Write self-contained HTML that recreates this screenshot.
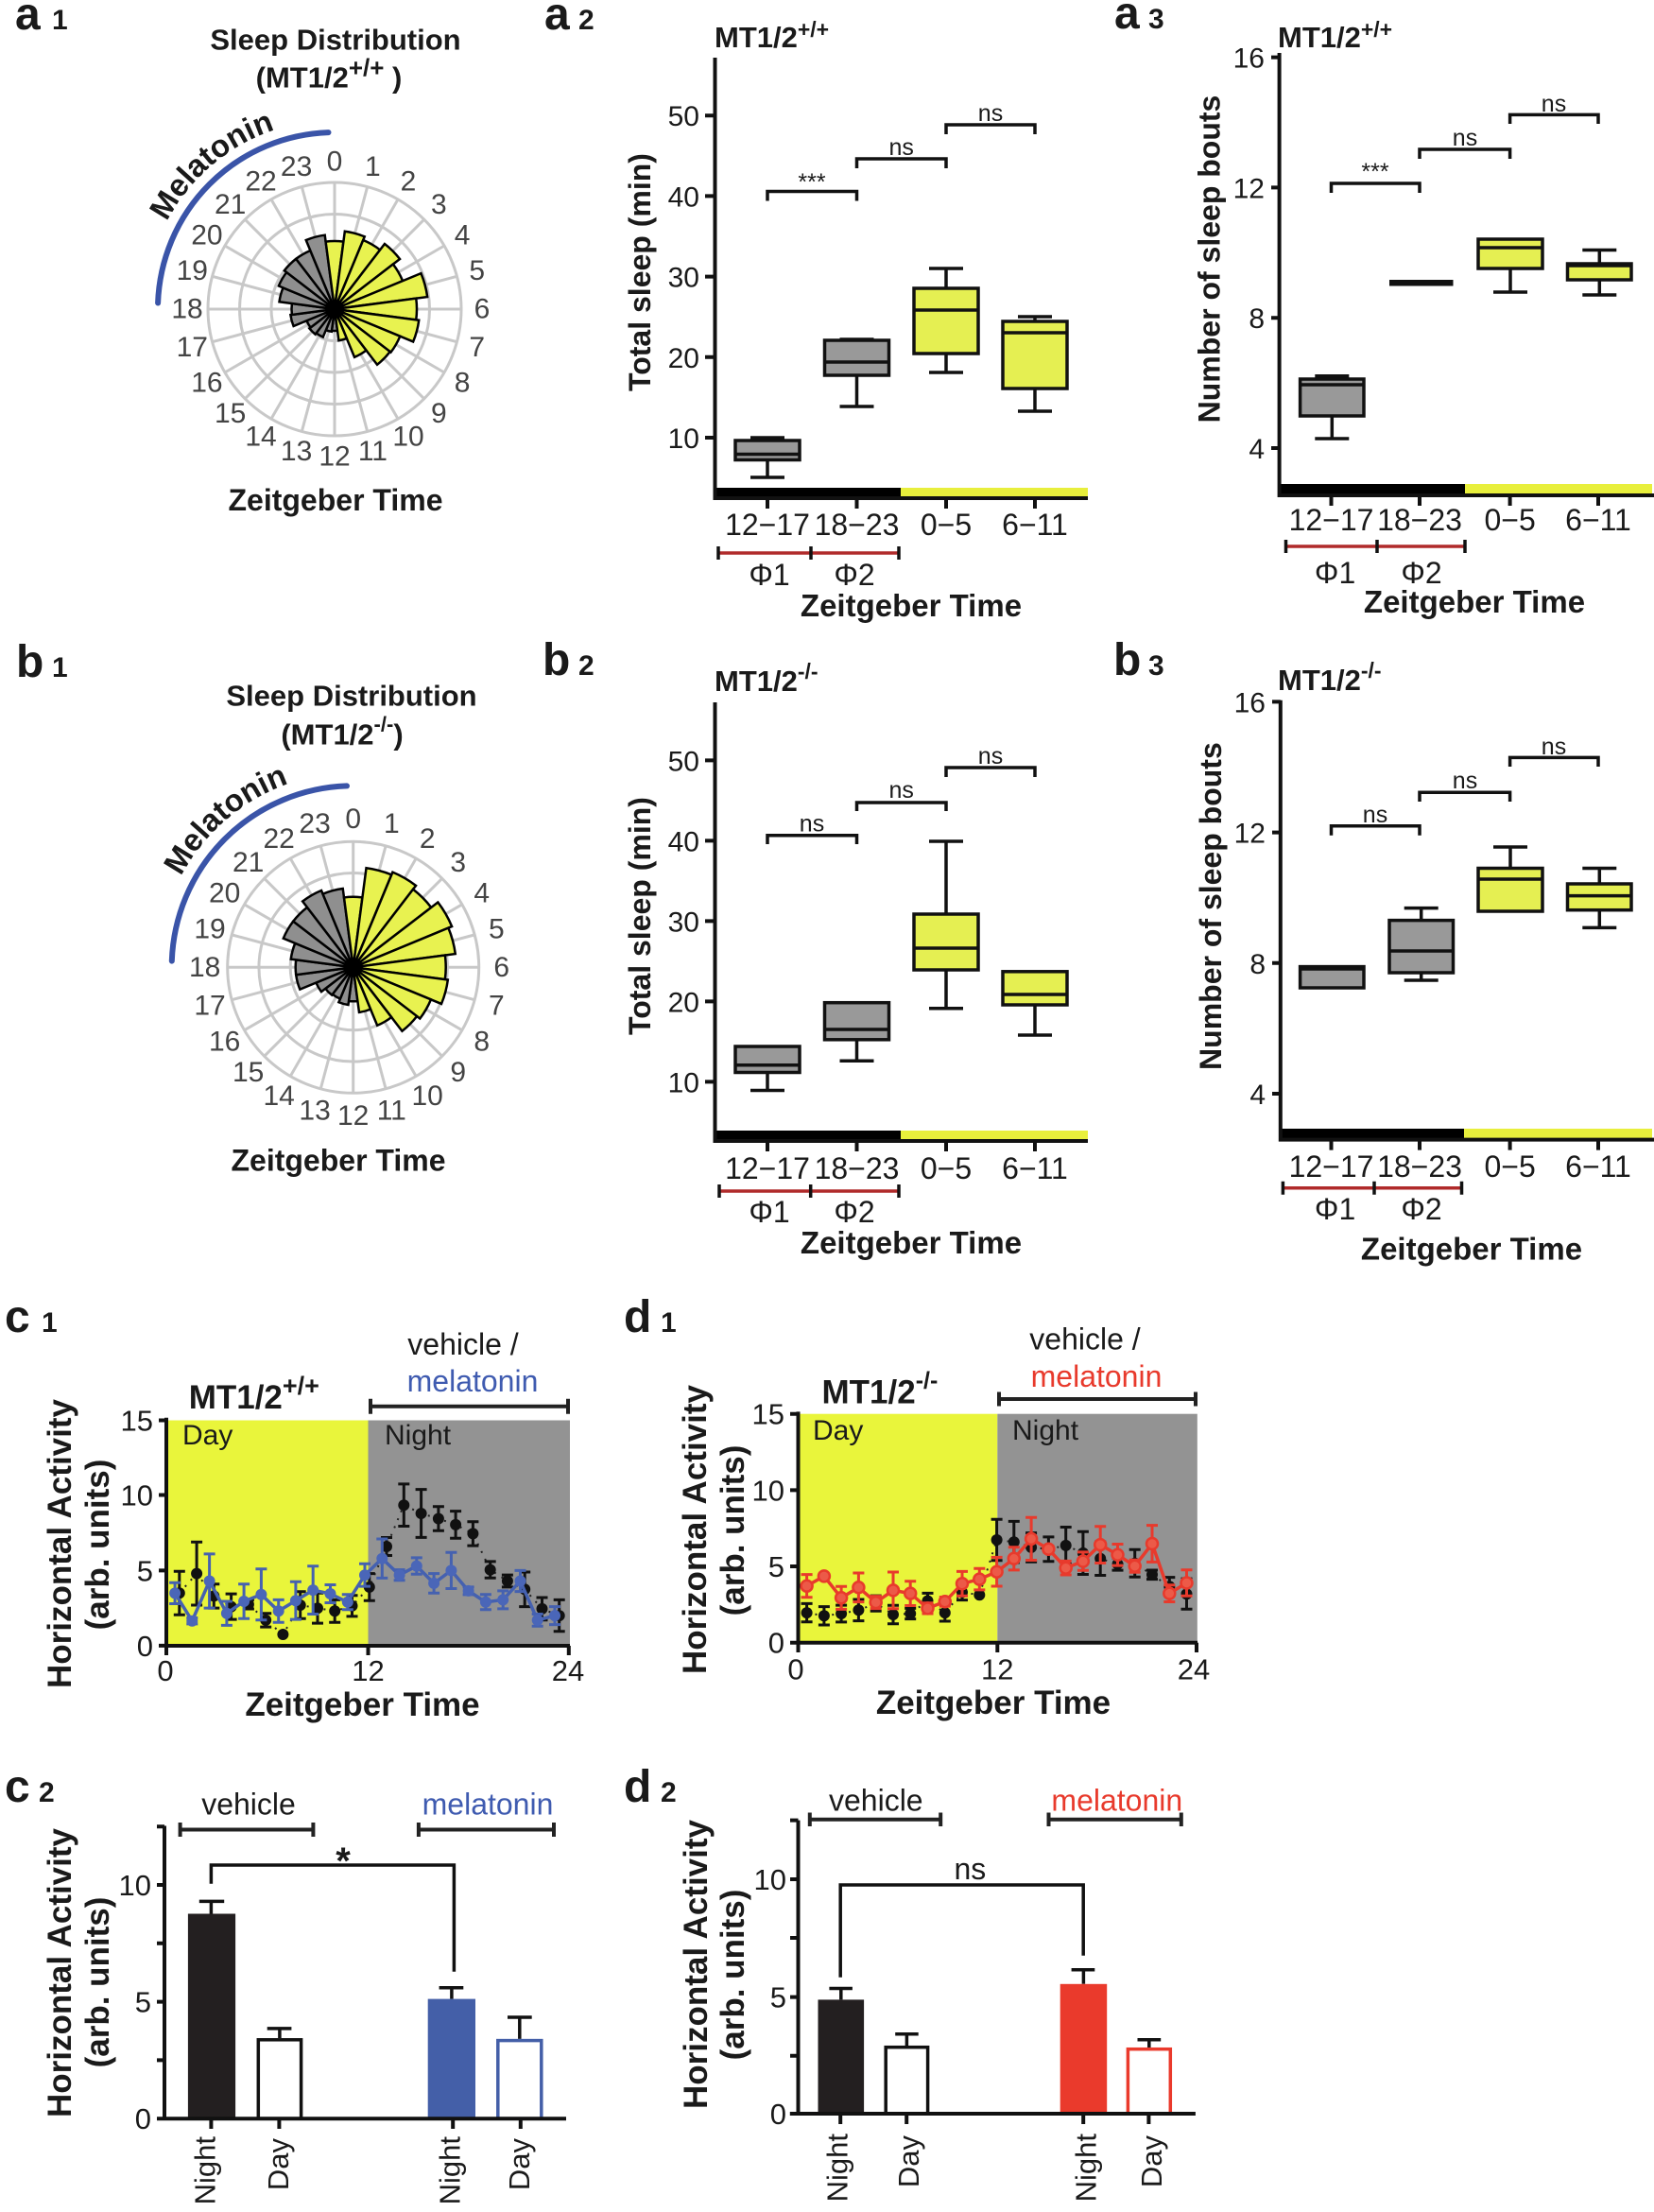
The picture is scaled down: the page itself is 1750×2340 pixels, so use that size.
<!DOCTYPE html>
<html><head><meta charset="utf-8"><style>
html,body{margin:0;padding:0;background:#fff;}
svg{display:block;}
text{font-family:"Liberation Sans",Arial,sans-serif;fill:#1a1a1a;}
.b{font-weight:bold;}
.ax{stroke:#111;stroke-width:4;fill:none;}
.bx{stroke:#111;stroke-width:3.5;}
.ln{stroke:#111;stroke-width:3.5;fill:none;}
.grid{stroke:#c8c8c8;stroke-width:3;fill:none;}
.wg{fill:#8f8f8f;stroke:#000;stroke-width:2.5;}
.wy{fill:#e8f250;stroke:#000;stroke-width:2.5;}
.pl{font-size:30px;fill:#444;}
</style></head><body>
<svg xmlns="http://www.w3.org/2000/svg" width="1750" height="2340" viewBox="0 0 1750 2340">
<defs>
<path id="arcA" d="M154,327 A200,200 0 0 1 354,127"/>
<path id="arcB" d="M167.7,1023.3 A206,206 0 0 1 373.7,817.3"/>
</defs>
<rect width="1750" height="2340" fill="#fff"/>

<!-- panel letters -->
<text class="b" x="16" y="31" font-size="48">a</text><text class="b" x="55" y="31" font-size="30">1</text>
<text class="b" x="576" y="31" font-size="48">a</text><text class="b" x="612" y="31" font-size="30">2</text>
<text class="b" x="1179" y="30" font-size="48">a</text><text class="b" x="1215" y="30" font-size="30">3</text>
<text class="b" x="17" y="716" font-size="48">b</text><text class="b" x="55" y="716" font-size="30">1</text>
<text class="b" x="574" y="714" font-size="48">b</text><text class="b" x="612" y="714" font-size="30">2</text>
<text class="b" x="1178" y="714" font-size="48">b</text><text class="b" x="1215" y="714" font-size="30">3</text>
<text class="b" x="5" y="1409" font-size="48">c</text><text class="b" x="44" y="1409" font-size="30">1</text>
<text class="b" x="5" y="1906" font-size="48">c</text><text class="b" x="41" y="1906" font-size="30">2</text>
<text class="b" x="660" y="1409" font-size="48">d</text><text class="b" x="699" y="1409" font-size="30">1</text>
<text class="b" x="660" y="1906" font-size="48">d</text><text class="b" x="699" y="1906" font-size="30">2</text>

<!-- ============ a1 polar ============ -->
<text class="b" x="355" y="52.5" font-size="31" text-anchor="middle">Sleep Distribution</text>
<text class="b" x="348" y="92.5" font-size="31" text-anchor="middle">(MT1/2<tspan font-size="26" dy="-12">+/+</tspan><tspan dy="12"> )</tspan></text>
<path d="M167.1,320.5 A187,187 0 0 1 347.5,140.1" fill="none" stroke="#3a54a8" stroke-width="6" stroke-linecap="round"/>
<text class="b" font-size="33"><textPath href="#arcA" startOffset="96">Melatonin</textPath></text>
<g transform="translate(354,327)">
<circle class="grid" r="33.5"/><circle class="grid" r="67"/><circle class="grid" r="100.5"/><circle class="grid" r="134"/>
<g class="grid">
<line x1="0" y1="-134" x2="0" y2="134"/><line x1="0" y1="-134" x2="0" y2="134" transform="rotate(15)"/><line x1="0" y1="-134" x2="0" y2="134" transform="rotate(30)"/><line x1="0" y1="-134" x2="0" y2="134" transform="rotate(45)"/><line x1="0" y1="-134" x2="0" y2="134" transform="rotate(60)"/><line x1="0" y1="-134" x2="0" y2="134" transform="rotate(75)"/><line x1="0" y1="-134" x2="0" y2="134" transform="rotate(90)"/><line x1="0" y1="-134" x2="0" y2="134" transform="rotate(105)"/><line x1="0" y1="-134" x2="0" y2="134" transform="rotate(120)"/><line x1="0" y1="-134" x2="0" y2="134" transform="rotate(135)"/><line x1="0" y1="-134" x2="0" y2="134" transform="rotate(150)"/><line x1="0" y1="-134" x2="0" y2="134" transform="rotate(165)"/>
</g>
<path class="wg" vector-effect="non-scaling-stroke" d="M0,0L-0.1305,-0.9914A1,1 0 0 1 0.1305,-0.9914Z" transform="rotate(180) scale(23)"/>
<path class="wg" vector-effect="non-scaling-stroke" d="M0,0L-0.1305,-0.9914A1,1 0 0 1 0.1305,-0.9914Z" transform="rotate(195) scale(24)"/>
<path class="wg" vector-effect="non-scaling-stroke" d="M0,0L-0.1305,-0.9914A1,1 0 0 1 0.1305,-0.9914Z" transform="rotate(210) scale(32)"/>
<path class="wg" vector-effect="non-scaling-stroke" d="M0,0L-0.1305,-0.9914A1,1 0 0 1 0.1305,-0.9914Z" transform="rotate(225) scale(33.5)"/>
<path class="wg" vector-effect="non-scaling-stroke" d="M0,0L-0.1305,-0.9914A1,1 0 0 1 0.1305,-0.9914Z" transform="rotate(240) scale(32)"/>
<path class="wg" vector-effect="non-scaling-stroke" d="M0,0L-0.1305,-0.9914A1,1 0 0 1 0.1305,-0.9914Z" transform="rotate(255) scale(47)"/>
<path class="wg" vector-effect="non-scaling-stroke" d="M0,0L-0.1305,-0.9914A1,1 0 0 1 0.1305,-0.9914Z" transform="rotate(270) scale(45.5)"/>
<path class="wg" vector-effect="non-scaling-stroke" d="M0,0L-0.1305,-0.9914A1,1 0 0 1 0.1305,-0.9914Z" transform="rotate(285) scale(59)"/>
<path class="wg" vector-effect="non-scaling-stroke" d="M0,0L-0.1305,-0.9914A1,1 0 0 1 0.1305,-0.9914Z" transform="rotate(300) scale(64)"/>
<path class="wg" vector-effect="non-scaling-stroke" d="M0,0L-0.1305,-0.9914A1,1 0 0 1 0.1305,-0.9914Z" transform="rotate(315) scale(67)"/>
<path class="wg" vector-effect="non-scaling-stroke" d="M0,0L-0.1305,-0.9914A1,1 0 0 1 0.1305,-0.9914Z" transform="rotate(330) scale(67)"/>
<path class="wg" vector-effect="non-scaling-stroke" d="M0,0L-0.1305,-0.9914A1,1 0 0 1 0.1305,-0.9914Z" transform="rotate(345) scale(79)"/>
<path class="wy" vector-effect="non-scaling-stroke" d="M0,0L-0.1305,-0.9914A1,1 0 0 1 0.1305,-0.9914Z" transform="rotate(0) scale(72)"/>
<path class="wy" vector-effect="non-scaling-stroke" d="M0,0L-0.1305,-0.9914A1,1 0 0 1 0.1305,-0.9914Z" transform="rotate(15) scale(83)"/>
<path class="wy" vector-effect="non-scaling-stroke" d="M0,0L-0.1305,-0.9914A1,1 0 0 1 0.1305,-0.9914Z" transform="rotate(30) scale(79)"/>
<path class="wy" vector-effect="non-scaling-stroke" d="M0,0L-0.1305,-0.9914A1,1 0 0 1 0.1305,-0.9914Z" transform="rotate(45) scale(87)"/>
<path class="wy" vector-effect="non-scaling-stroke" d="M0,0L-0.1305,-0.9914A1,1 0 0 1 0.1305,-0.9914Z" transform="rotate(60) scale(78)"/>
<path class="wy" vector-effect="non-scaling-stroke" d="M0,0L-0.1305,-0.9914A1,1 0 0 1 0.1305,-0.9914Z" transform="rotate(75) scale(99)"/>
<path class="wy" vector-effect="non-scaling-stroke" d="M0,0L-0.1305,-0.9914A1,1 0 0 1 0.1305,-0.9914Z" transform="rotate(90) scale(87)"/>
<path class="wy" vector-effect="non-scaling-stroke" d="M0,0L-0.1305,-0.9914A1,1 0 0 1 0.1305,-0.9914Z" transform="rotate(105) scale(90)"/>
<path class="wy" vector-effect="non-scaling-stroke" d="M0,0L-0.1305,-0.9914A1,1 0 0 1 0.1305,-0.9914Z" transform="rotate(120) scale(75)"/>
<path class="wy" vector-effect="non-scaling-stroke" d="M0,0L-0.1305,-0.9914A1,1 0 0 1 0.1305,-0.9914Z" transform="rotate(135) scale(74)"/>
<path class="wy" vector-effect="non-scaling-stroke" d="M0,0L-0.1305,-0.9914A1,1 0 0 1 0.1305,-0.9914Z" transform="rotate(150) scale(55)"/>
<path class="wy" vector-effect="non-scaling-stroke" d="M0,0L-0.1305,-0.9914A1,1 0 0 1 0.1305,-0.9914Z" transform="rotate(165) scale(33.5)"/>
<circle r="10" fill="#000"/>
</g>
<g text-anchor="middle">
<text class="pl" x="354" y="171" dominant-baseline="central">0</text>
<text class="pl" x="394.4" y="176.3" dominant-baseline="central">1</text>
<text class="pl" x="432" y="191.9" dominant-baseline="central">2</text>
<text class="pl" x="464.3" y="216.7" dominant-baseline="central">3</text>
<text class="pl" x="489.1" y="249" dominant-baseline="central">4</text>
<text class="pl" x="504.7" y="286.6" dominant-baseline="central">5</text>
<text class="pl" x="510" y="327" dominant-baseline="central">6</text>
<text class="pl" x="504.7" y="367.4" dominant-baseline="central">7</text>
<text class="pl" x="489.1" y="405" dominant-baseline="central">8</text>
<text class="pl" x="464.3" y="437.3" dominant-baseline="central">9</text>
<text class="pl" x="432" y="462.1" dominant-baseline="central">10</text>
<text class="pl" x="394.4" y="477.7" dominant-baseline="central">11</text>
<text class="pl" x="354" y="483" dominant-baseline="central">12</text>
<text class="pl" x="313.6" y="477.7" dominant-baseline="central">13</text>
<text class="pl" x="276" y="462.1" dominant-baseline="central">14</text>
<text class="pl" x="243.7" y="437.3" dominant-baseline="central">15</text>
<text class="pl" x="218.9" y="405" dominant-baseline="central">16</text>
<text class="pl" x="203.3" y="367.4" dominant-baseline="central">17</text>
<text class="pl" x="198" y="327" dominant-baseline="central">18</text>
<text class="pl" x="203.3" y="286.6" dominant-baseline="central">19</text>
<text class="pl" x="218.9" y="249" dominant-baseline="central">20</text>
<text class="pl" x="243.7" y="216.7" dominant-baseline="central">21</text>
<text class="pl" x="276" y="191.9" dominant-baseline="central">22</text>
<text class="pl" x="313.6" y="176.3" dominant-baseline="central">23</text>
</g>
<text class="b" x="355" y="540" font-size="32" text-anchor="middle">Zeitgeber Time</text>

<!-- ============ b1 polar ============ -->
<text class="b" x="372" y="746.6" font-size="31" text-anchor="middle">Sleep Distribution</text>
<text class="b" x="362" y="787.3" font-size="31" text-anchor="middle">(MT1/2<tspan font-size="22" dy="-14">-/-</tspan><tspan dy="14">)</tspan></text>
<path d="M181.8,1016.6 A192,192 0 0 1 367,831.4" fill="none" stroke="#3a54a8" stroke-width="6" stroke-linecap="round"/>
<text class="b" font-size="33"><textPath href="#arcB" startOffset="100">Melatonin</textPath></text>
<g transform="translate(373.7,1023.3)">
<circle class="grid" r="33.25"/><circle class="grid" r="66.5"/><circle class="grid" r="99.75"/><circle class="grid" r="133"/>
<g class="grid">
<line x1="0" y1="-133" x2="0" y2="133"/><line x1="0" y1="-133" x2="0" y2="133" transform="rotate(15)"/><line x1="0" y1="-133" x2="0" y2="133" transform="rotate(30)"/><line x1="0" y1="-133" x2="0" y2="133" transform="rotate(45)"/><line x1="0" y1="-133" x2="0" y2="133" transform="rotate(60)"/><line x1="0" y1="-133" x2="0" y2="133" transform="rotate(75)"/><line x1="0" y1="-133" x2="0" y2="133" transform="rotate(90)"/><line x1="0" y1="-133" x2="0" y2="133" transform="rotate(105)"/><line x1="0" y1="-133" x2="0" y2="133" transform="rotate(120)"/><line x1="0" y1="-133" x2="0" y2="133" transform="rotate(135)"/><line x1="0" y1="-133" x2="0" y2="133" transform="rotate(150)"/><line x1="0" y1="-133" x2="0" y2="133" transform="rotate(165)"/>
</g>
<path class="wg" vector-effect="non-scaling-stroke" d="M0,0L-0.1305,-0.9914A1,1 0 0 1 0.1305,-0.9914Z" transform="rotate(180) scale(36)"/>
<path class="wg" vector-effect="non-scaling-stroke" d="M0,0L-0.1305,-0.9914A1,1 0 0 1 0.1305,-0.9914Z" transform="rotate(195) scale(40)"/>
<path class="wg" vector-effect="non-scaling-stroke" d="M0,0L-0.1305,-0.9914A1,1 0 0 1 0.1305,-0.9914Z" transform="rotate(210) scale(36)"/>
<path class="wg" vector-effect="non-scaling-stroke" d="M0,0L-0.1305,-0.9914A1,1 0 0 1 0.1305,-0.9914Z" transform="rotate(225) scale(37)"/>
<path class="wg" vector-effect="non-scaling-stroke" d="M0,0L-0.1305,-0.9914A1,1 0 0 1 0.1305,-0.9914Z" transform="rotate(240) scale(42.5)"/>
<path class="wg" vector-effect="non-scaling-stroke" d="M0,0L-0.1305,-0.9914A1,1 0 0 1 0.1305,-0.9914Z" transform="rotate(255) scale(61)"/>
<path class="wg" vector-effect="non-scaling-stroke" d="M0,0L-0.1305,-0.9914A1,1 0 0 1 0.1305,-0.9914Z" transform="rotate(270) scale(61)"/>
<path class="wg" vector-effect="non-scaling-stroke" d="M0,0L-0.1305,-0.9914A1,1 0 0 1 0.1305,-0.9914Z" transform="rotate(285) scale(66.5)"/>
<path class="wg" vector-effect="non-scaling-stroke" d="M0,0L-0.1305,-0.9914A1,1 0 0 1 0.1305,-0.9914Z" transform="rotate(300) scale(80)"/>
<path class="wg" vector-effect="non-scaling-stroke" d="M0,0L-0.1305,-0.9914A1,1 0 0 1 0.1305,-0.9914Z" transform="rotate(315) scale(80)"/>
<path class="wg" vector-effect="non-scaling-stroke" d="M0,0L-0.1305,-0.9914A1,1 0 0 1 0.1305,-0.9914Z" transform="rotate(330) scale(88)"/>
<path class="wg" vector-effect="non-scaling-stroke" d="M0,0L-0.1305,-0.9914A1,1 0 0 1 0.1305,-0.9914Z" transform="rotate(345) scale(84)"/>
<path class="wy" vector-effect="non-scaling-stroke" d="M0,0L-0.1305,-0.9914A1,1 0 0 1 0.1305,-0.9914Z" transform="rotate(0) scale(74.5)"/>
<path class="wy" vector-effect="non-scaling-stroke" d="M0,0L-0.1305,-0.9914A1,1 0 0 1 0.1305,-0.9914Z" transform="rotate(15) scale(106)"/>
<path class="wy" vector-effect="non-scaling-stroke" d="M0,0L-0.1305,-0.9914A1,1 0 0 1 0.1305,-0.9914Z" transform="rotate(30) scale(109)"/>
<path class="wy" vector-effect="non-scaling-stroke" d="M0,0L-0.1305,-0.9914A1,1 0 0 1 0.1305,-0.9914Z" transform="rotate(45) scale(104)"/>
<path class="wy" vector-effect="non-scaling-stroke" d="M0,0L-0.1305,-0.9914A1,1 0 0 1 0.1305,-0.9914Z" transform="rotate(60) scale(113)"/>
<path class="wy" vector-effect="non-scaling-stroke" d="M0,0L-0.1305,-0.9914A1,1 0 0 1 0.1305,-0.9914Z" transform="rotate(75) scale(109)"/>
<path class="wy" vector-effect="non-scaling-stroke" d="M0,0L-0.1305,-0.9914A1,1 0 0 1 0.1305,-0.9914Z" transform="rotate(90) scale(98)"/>
<path class="wy" vector-effect="non-scaling-stroke" d="M0,0L-0.1305,-0.9914A1,1 0 0 1 0.1305,-0.9914Z" transform="rotate(105) scale(101)"/>
<path class="wy" vector-effect="non-scaling-stroke" d="M0,0L-0.1305,-0.9914A1,1 0 0 1 0.1305,-0.9914Z" transform="rotate(120) scale(89)"/>
<path class="wy" vector-effect="non-scaling-stroke" d="M0,0L-0.1305,-0.9914A1,1 0 0 1 0.1305,-0.9914Z" transform="rotate(135) scale(85)"/>
<path class="wy" vector-effect="non-scaling-stroke" d="M0,0L-0.1305,-0.9914A1,1 0 0 1 0.1305,-0.9914Z" transform="rotate(150) scale(66.5)"/>
<path class="wy" vector-effect="non-scaling-stroke" d="M0,0L-0.1305,-0.9914A1,1 0 0 1 0.1305,-0.9914Z" transform="rotate(165) scale(48)"/>
<circle r="10" fill="#000"/>
</g>
<g text-anchor="middle">
<text class="pl" x="373.7" y="866.3" dominant-baseline="central">0</text>
<text class="pl" x="414.3" y="871.7" dominant-baseline="central">1</text>
<text class="pl" x="452.2" y="887.3" dominant-baseline="central">2</text>
<text class="pl" x="484.7" y="912.3" dominant-baseline="central">3</text>
<text class="pl" x="509.7" y="944.8" dominant-baseline="central">4</text>
<text class="pl" x="525.4" y="983.2" dominant-baseline="central">5</text>
<text class="pl" x="530.7" y="1023.3" dominant-baseline="central">6</text>
<text class="pl" x="525.4" y="1063.9" dominant-baseline="central">7</text>
<text class="pl" x="509.7" y="1101.8" dominant-baseline="central">8</text>
<text class="pl" x="484.7" y="1134.3" dominant-baseline="central">9</text>
<text class="pl" x="452.2" y="1159.3" dominant-baseline="central">10</text>
<text class="pl" x="414.3" y="1175" dominant-baseline="central">11</text>
<text class="pl" x="373.7" y="1180.3" dominant-baseline="central">12</text>
<text class="pl" x="333.1" y="1175" dominant-baseline="central">13</text>
<text class="pl" x="295.2" y="1159.3" dominant-baseline="central">14</text>
<text class="pl" x="262.7" y="1134.3" dominant-baseline="central">15</text>
<text class="pl" x="237.7" y="1101.8" dominant-baseline="central">16</text>
<text class="pl" x="222" y="1063.9" dominant-baseline="central">17</text>
<text class="pl" x="216.7" y="1023.3" dominant-baseline="central">18</text>
<text class="pl" x="222" y="983.2" dominant-baseline="central">19</text>
<text class="pl" x="237.7" y="944.8" dominant-baseline="central">20</text>
<text class="pl" x="262.7" y="912.3" dominant-baseline="central">21</text>
<text class="pl" x="295.2" y="887.3" dominant-baseline="central">22</text>
<text class="pl" x="333.1" y="871.7" dominant-baseline="central">23</text>
</g>
<text class="b" x="358" y="1238.6" font-size="32" text-anchor="middle">Zeitgeber Time</text>

<!-- ============ a2 ============ -->
<text class="b" x="756" y="50" font-size="31">MT1/2<tspan font-size="23" dy="-11">+/+</tspan></text>
<text class="b" transform="translate(688,288) rotate(-90)" text-anchor="middle" font-size="32">Total sleep (min)</text>
<rect x="756.5" y="516" width="196.5" height="10" fill="#000"/>
<rect x="953" y="516" width="198" height="10" fill="#e8ef3c"/>
<path class="ax" d="M756.5,61V529M754.5,527H1151"/>
<path class="ax" d="M746,463H756M746,377.8H756M746,292.6H756M746,207.4H756M746,122.2H756M812,527V538M906.5,527V538M1001,527V538M1095,527V538"/>
<g font-size="30" text-anchor="end">
<text x="740" y="474">10</text><text x="740" y="388.8">20</text><text x="740" y="303.6">30</text><text x="740" y="218.4">40</text><text x="740" y="133.2">50</text>
</g>
<g font-size="32" text-anchor="middle">
<text x="812" y="566">12−17</text><text x="906.5" y="566">18−23</text><text x="1001" y="566">0−5</text><text x="1095" y="566">6−11</text>
<text x="814" y="619">Φ1</text><text x="904" y="619">Φ2</text>
</g>
<line x1="760" y1="585" x2="951" y2="585" stroke="#b02a2a" stroke-width="3.5"/>
<path d="M760,578V592M858,578V592M951,578V592" stroke="#111" stroke-width="3.5"/>
<text class="b" x="964" y="652" font-size="33" text-anchor="middle">Zeitgeber Time</text>
<g class="ln">
<path d="M812,463V466M794,463H830M812,486.5V505M794,505H830"/>
<path d="M906.5,359V360M888.5,359H924.5M906.5,397V430M888.5,430H924.5"/>
<path d="M1001,284V305M983,284H1019M1001,374V394M983,394H1019"/>
<path d="M1095,335V340M1077,335H1113M1095,411V435M1077,435H1113"/>
</g>
<rect class="bx" x="778" y="466" width="68" height="20.5" fill="#999"/>
<rect class="bx" x="872.5" y="360" width="68" height="37" fill="#999"/>
<rect class="bx" x="967" y="305" width="68" height="69" fill="#e5ef52"/>
<rect class="bx" x="1061" y="340" width="68" height="71" fill="#e5ef52"/>
<path class="ln" d="M778,480.5H846M872.5,383H940.5M967,328H1035M1061,352H1129"/>
<path class="ln" d="M812,212.5V202.5H906.5V212.5M906.5,178V168H1001V178M1001,142V132H1095V142"/>
<g font-size="25" text-anchor="middle"><text x="859" y="201">***</text><text x="953.7" y="164">ns</text><text x="1048" y="128">ns</text></g>

<!-- ============ a3 ============ -->
<text class="b" x="1352" y="50" font-size="31">MT1/2<tspan font-size="23" dy="-11">+/+</tspan></text>
<text class="b" transform="translate(1290.5,274) rotate(-90)" text-anchor="middle" font-size="32">Number of sleep bouts</text>
<rect x="1353.6" y="512" width="196.4" height="10.5" fill="#000"/>
<rect x="1550" y="512" width="198" height="10.5" fill="#e8ef3c"/>
<path class="ax" d="M1353.6,56V526M1351.6,524H1750"/>
<path class="ax" d="M1345,474H1353.6M1345,336.2H1353.6M1345,198.4H1353.6M1345,60.6H1353.6M1408.5,524V535M1502,524V535M1597.6,524V535M1691,524V535"/>
<g font-size="30" text-anchor="end">
<text x="1338" y="485">4</text><text x="1338" y="347.2">8</text><text x="1338" y="209.4">12</text><text x="1338" y="71.6">16</text>
</g>
<g font-size="32" text-anchor="middle">
<text x="1408.5" y="561">12−17</text><text x="1502" y="561">18−23</text><text x="1597.6" y="561">0−5</text><text x="1691" y="561">6−11</text>
<text x="1412.6" y="617">Φ1</text><text x="1504" y="617">Φ2</text>
</g>
<line x1="1360.5" y1="578" x2="1550" y2="578" stroke="#b02a2a" stroke-width="3.5"/>
<path d="M1360.5,571V585M1457,571V585M1550,571V585" stroke="#111" stroke-width="3.5"/>
<text class="b" x="1560" y="648" font-size="33" text-anchor="middle">Zeitgeber Time</text>
<g class="ln">
<path d="M1409.3,397.7V401M1391.3,397.7H1427.3M1409.3,440V464M1391.3,464H1427.3"/>
<path d="M1598,284V309M1580,309H1616"/>
<path d="M1692.3,264.5V279M1674.3,264.5H1710.3M1692.3,296V312M1674.3,312H1710.3"/>
</g>
<rect class="bx" x="1375.6" y="401" width="67.4" height="39" fill="#999"/>
<rect x="1470" y="296" width="67.5" height="6.5" fill="#111"/>
<rect class="bx" x="1564" y="253" width="68" height="31" fill="#e5ef52"/>
<rect class="bx" x="1658.5" y="279" width="67.5" height="17" fill="#e5ef52"/>
<path class="ln" d="M1375.6,407H1443M1564,262H1632M1658.5,281H1726"/>
<path class="ln" d="M1408.5,204V194H1502V204M1502,168V158H1597.6V168M1597.6,131V121.4H1691V131"/>
<g font-size="25" text-anchor="middle"><text x="1455" y="190">***</text><text x="1550" y="154">ns</text><text x="1644" y="118">ns</text></g>

<!-- ============ b2 ============ -->
<text class="b" x="756" y="731" font-size="31">MT1/2<tspan font-size="23" dy="-13">-/-</tspan></text>
<text class="b" transform="translate(688,969) rotate(-90)" text-anchor="middle" font-size="32">Total sleep (min)</text>
<rect x="756.5" y="1196" width="196.5" height="10" fill="#000"/>
<rect x="953" y="1196" width="198" height="10" fill="#e8ef3c"/>
<path class="ax" d="M756.5,743V1209M754.5,1207H1151"/>
<path class="ax" d="M746,1144.4H756M746,1059.4H756M746,974.4H756M746,889.4H756M746,804.4H756M812,1207V1218M906.5,1207V1218M1001,1207V1218M1095,1207V1218"/>
<g font-size="30" text-anchor="end">
<text x="740" y="1155.4">10</text><text x="740" y="1070.4">20</text><text x="740" y="985.4">30</text><text x="740" y="900.4">40</text><text x="740" y="815.4">50</text>
</g>
<g font-size="32" text-anchor="middle">
<text x="812" y="1247">12−17</text><text x="906.5" y="1247">18−23</text><text x="1001" y="1247">0−5</text><text x="1095" y="1247">6−11</text>
<text x="814" y="1293">Φ1</text><text x="904" y="1293">Φ2</text>
</g>
<line x1="761" y1="1260" x2="951" y2="1260" stroke="#b02a2a" stroke-width="3.5"/>
<path d="M761,1253V1267M857.7,1253V1267M951,1253V1267" stroke="#111" stroke-width="3.5"/>
<text class="b" x="964" y="1326" font-size="33" text-anchor="middle">Zeitgeber Time</text>
<g class="ln">
<path d="M812,1134.5V1153.5M794,1153.5H830"/>
<path d="M906.5,1099.8V1122.3M888.5,1122.3H924.5"/>
<path d="M1001,890V967M983,890H1019M1001,1026V1066.8M983,1066.8H1019"/>
<path d="M1095,1063V1095M1077,1095H1113"/>
</g>
<rect class="bx" x="778" y="1107" width="68" height="27.5" fill="#999"/>
<rect class="bx" x="872.5" y="1060.7" width="68" height="39.1" fill="#999"/>
<rect class="bx" x="967" y="967" width="68" height="59" fill="#e5ef52"/>
<rect class="bx" x="1061" y="1027.8" width="68" height="35.2" fill="#e5ef52"/>
<path class="ln" d="M778,1126.7H846M872.5,1089H940.5M967,1003H1035M1061,1052H1129"/>
<path class="ln" d="M812,893V883.8H906.5V893M906.5,858V849H1001V858M1001,822V812H1095V822"/>
<g font-size="25" text-anchor="middle"><text x="859" y="879.5">ns</text><text x="953.7" y="844">ns</text><text x="1048" y="808">ns</text></g>

<!-- ============ b3 ============ -->
<text class="b" x="1352" y="730" font-size="31">MT1/2<tspan font-size="23" dy="-13">-/-</tspan></text>
<text class="b" transform="translate(1292,958.6) rotate(-90)" text-anchor="middle" font-size="32">Number of sleep bouts</text>
<rect x="1354.8" y="1194" width="194.2" height="10.7" fill="#000"/>
<rect x="1549" y="1194" width="199" height="10.7" fill="#e8ef3c"/>
<path class="ax" d="M1354.8,740.7V1207.6M1352.8,1205.6H1750"/>
<path class="ax" d="M1346,1157H1354.8M1346,1018.8H1354.8M1346,880.6H1354.8M1346,742.4H1354.8M1408.5,1205.6V1216.6M1502,1205.6V1216.6M1597.6,1205.6V1216.6M1691,1205.6V1216.6"/>
<g font-size="30" text-anchor="end">
<text x="1339" y="1168">4</text><text x="1339" y="1029.8">8</text><text x="1339" y="891.6">12</text><text x="1339" y="753.4">16</text>
</g>
<g font-size="32" text-anchor="middle">
<text x="1408.5" y="1245">12−17</text><text x="1502" y="1245">18−23</text><text x="1597.6" y="1245">0−5</text><text x="1691" y="1245">6−11</text>
<text x="1412.6" y="1290">Φ1</text><text x="1504" y="1290">Φ2</text>
</g>
<line x1="1357.4" y1="1256.8" x2="1546.5" y2="1256.8" stroke="#b02a2a" stroke-width="3.5"/>
<path d="M1357.4,1249.8V1263.8M1454,1249.8V1263.8M1546.5,1249.8V1263.8" stroke="#111" stroke-width="3.5"/>
<text class="b" x="1557" y="1332.6" font-size="33" text-anchor="middle">Zeitgeber Time</text>
<g class="ln">
<path d="M1503.7,960.6V973.6M1485.7,960.6H1521.7M1503.7,1029V1037M1485.7,1037H1521.7"/>
<path d="M1598,896V918.5M1580,896H1616"/>
<path d="M1692.3,918.5V935M1674.3,918.5H1710.3M1692.3,962.7V981.4M1674.3,981.4H1710.3"/>
</g>
<rect class="bx" x="1375.6" y="1022.6" width="67.4" height="22.4" fill="#999"/>
<rect class="bx" x="1470" y="973.6" width="67.5" height="55.4" fill="#999"/>
<rect class="bx" x="1564" y="918.5" width="68" height="45.5" fill="#e5ef52"/>
<rect class="bx" x="1658.5" y="935" width="67.5" height="27.7" fill="#e5ef52"/>
<path class="ln" d="M1375.6,1025H1443M1470,1006H1537.5M1564,930H1632M1658.5,947.6H1726"/>
<path class="ln" d="M1408.5,883.8V873.8H1502V883.8M1502,848V838.3H1597.6V848M1597.6,811V801.4H1691V811"/>
<g font-size="25" text-anchor="middle"><text x="1455" y="870">ns</text><text x="1550" y="834">ns</text><text x="1644" y="798">ns</text></g>

<!-- ============ c1 ============ -->
<text class="b" x="199.7" y="1489.8" font-size="35">MT1/2<tspan font-size="27" dy="-15">+/+</tspan></text>
<text x="490" y="1433" font-size="32" text-anchor="middle">vehicle /</text>
<text x="500" y="1472" font-size="32" text-anchor="middle" style="fill:#3f5bb0">melatonin</text>
<path d="M392,1487.8H601M392,1479.8V1495.8M601,1479.8V1495.8" stroke="#222" stroke-width="4" fill="none"/>
<rect x="176" y="1502.5" width="213.5" height="238.5" fill="#e9f53b"/>
<rect x="389.5" y="1502.5" width="213.5" height="238.5" fill="#939393"/>
<text x="193" y="1528" font-size="30">Day</text>
<text x="407" y="1528" font-size="30">Night</text>
<polyline points="189.8,1685.3 208.1,1664.6 226.3,1688.4 244.6,1699.6 262.9,1697.2 281.2,1713.9 299.4,1729 317.7,1698 336,1701.2 354.2,1704.3 372.5,1698.8 390.8,1678.9 409,1636 427.3,1592.2 445.6,1601 463.9,1606.5 482.1,1612.9 500.4,1622.4 518.7,1660.6 536.9,1672.5 555.2,1681.3 573.5,1701.9 591.7,1709.1" fill="none" stroke="#222" stroke-width="2" stroke-dasharray="2,7"/>
<path stroke="#111" stroke-width="3" fill="none" d="M189.8,1662.2V1708.3M183.8,1662.2h12M183.8,1708.3h12M208.1,1631.2V1698M202.1,1631.2h12M202.1,1698h12M226.3,1675.7V1701.1M220.3,1675.7h12M220.3,1701.1h12M244.6,1686.1V1713.1M238.6,1686.1h12M238.6,1713.1h12M262.9,1692.4V1702M256.9,1692.4h12M256.9,1702h12M281.2,1706.7V1721.1M275.2,1706.7h12M275.2,1721.1h12M317.7,1683.7V1712.3M311.7,1683.7h12M311.7,1712.3h12M336,1685.3V1717.1M330,1685.3h12M330,1717.1h12M354.2,1692.4V1716.2M348.2,1692.4h12M348.2,1716.2h12M372.5,1687.7V1709.9M366.5,1687.7h12M366.5,1709.9h12M390.8,1664.6V1693.2M384.8,1664.6h12M384.8,1693.2h12M409,1626.5V1645.5M403,1626.5h12M403,1645.5h12M427.3,1569.9V1614.5M421.3,1569.9h12M421.3,1614.5h12M445.6,1575.6V1626.4M439.6,1575.6h12M439.6,1626.4h12M463.9,1593.8V1619.2M457.9,1593.8h12M457.9,1619.2h12M482.1,1598.6V1627.2M476.1,1598.6h12M476.1,1627.2h12M500.4,1609.7V1635.1M494.4,1609.7h12M494.4,1635.1h12M518.7,1651.9V1669.3M512.7,1651.9h12M512.7,1669.3h12M536.9,1666.1V1678.9M530.9,1666.1h12M530.9,1678.9h12M555.2,1663V1699.6M549.2,1663h12M549.2,1699.6h12M573.5,1690V1713.8M567.5,1690h12M567.5,1713.8h12M591.7,1692.4V1725.8M585.7,1692.4h12M585.7,1725.8h12"/>
<g fill="#111">
<circle cx="189.8" cy="1685.3" r="6"/><circle cx="208.1" cy="1664.6" r="6"/><circle cx="226.3" cy="1688.4" r="6"/><circle cx="244.6" cy="1699.6" r="6"/><circle cx="262.9" cy="1697.2" r="6"/><circle cx="281.2" cy="1713.9" r="6"/><circle cx="299.4" cy="1729" r="6"/><circle cx="317.7" cy="1698" r="6"/><circle cx="336" cy="1701.2" r="6"/><circle cx="354.2" cy="1704.3" r="6"/><circle cx="372.5" cy="1698.8" r="6"/><circle cx="390.8" cy="1678.9" r="6"/><circle cx="409" cy="1636" r="6"/><circle cx="427.3" cy="1592.2" r="6"/><circle cx="445.6" cy="1601" r="6"/><circle cx="463.9" cy="1606.5" r="6"/><circle cx="482.1" cy="1612.9" r="6"/><circle cx="500.4" cy="1622.4" r="6"/><circle cx="518.7" cy="1660.6" r="6"/><circle cx="536.9" cy="1672.5" r="6"/><circle cx="555.2" cy="1681.3" r="6"/><circle cx="573.5" cy="1701.9" r="6"/><circle cx="591.7" cy="1709.1" r="6"/>
</g>
<path stroke="#4561b0" stroke-width="3" fill="none" d="M185.1,1674.3V1696.5M179.1,1674.3h12M179.1,1696.5h12M203.3,1711.5V1717.9M197.3,1711.5h12M197.3,1717.9h12M221.6,1643.9V1701.1M215.6,1643.9h12M215.6,1701.1h12M239.9,1694V1719.4M233.9,1694h12M233.9,1719.4h12M258.1,1675.7V1712.3M252.1,1675.7h12M252.1,1712.3h12M276.4,1659.8V1713.8M270.4,1659.8h12M270.4,1713.8h12M294.7,1692.4V1716.2M288.7,1692.4h12M288.7,1716.2h12M312.9,1673.3V1713.1M306.9,1673.3h12M306.9,1713.1h12M331.2,1656.7V1707.5M325.2,1656.7h12M325.2,1707.5h12M349.5,1676.5V1695.5M343.5,1676.5h12M343.5,1695.5h12M367.8,1686.8V1702.8M361.8,1686.8h12M361.8,1702.8h12M386,1654.3V1678.1M380,1654.3h12M380,1678.1h12M404.3,1628V1669.4M398.3,1628h12M398.3,1669.4h12M422.6,1660.6V1671.8M416.6,1660.6h12M416.6,1671.8h12M440.8,1647.9V1665.3M434.8,1647.9h12M434.8,1665.3h12M459.1,1664.6V1685.2M453.1,1664.6h12M453.1,1685.2h12M477.4,1642.3V1680.5M471.4,1642.3h12M471.4,1680.5h12M495.6,1678.9V1686.9M489.6,1678.9h12M489.6,1686.9h12M513.9,1686.8V1702.8M507.9,1686.8h12M507.9,1702.8h12M532.2,1682.9V1701.9M526.2,1682.9h12M526.2,1701.9h12M550.5,1661.4V1683.6M544.5,1661.4h12M544.5,1683.6h12M568.7,1707.5V1720.3M562.7,1707.5h12M562.7,1720.3h12M587,1699.6V1718.6M581,1699.6h12M581,1718.6h12"/>
<polyline points="185.1,1685.4 203.3,1714.7 221.6,1672.5 239.9,1706.7 258.1,1694 276.4,1686.8 294.7,1704.3 312.9,1693.2 331.2,1682.1 349.5,1686 367.8,1694.8 386,1666.2 404.3,1648.7 422.6,1666.2 440.8,1656.6 459.1,1674.9 477.4,1661.4 495.6,1682.9 513.9,1694.8 532.2,1692.4 550.5,1672.5 568.7,1713.9 587,1709.1" fill="none" stroke="#4561b0" stroke-width="3.5"/>
<g fill="#4a66b8">
<circle cx="185.1" cy="1685.4" r="6"/><circle cx="203.3" cy="1714.7" r="6"/><circle cx="221.6" cy="1672.5" r="6"/><circle cx="239.9" cy="1706.7" r="6"/><circle cx="258.1" cy="1694" r="6"/><circle cx="276.4" cy="1686.8" r="6"/><circle cx="294.7" cy="1704.3" r="6"/><circle cx="312.9" cy="1693.2" r="6"/><circle cx="331.2" cy="1682.1" r="6"/><circle cx="349.5" cy="1686" r="6"/><circle cx="367.8" cy="1694.8" r="6"/><circle cx="386" cy="1666.2" r="6"/><circle cx="404.3" cy="1648.7" r="6"/><circle cx="422.6" cy="1666.2" r="6"/><circle cx="440.8" cy="1656.6" r="6"/><circle cx="459.1" cy="1674.9" r="6"/><circle cx="477.4" cy="1661.4" r="6"/><circle cx="495.6" cy="1682.9" r="6"/><circle cx="513.9" cy="1694.8" r="6"/><circle cx="532.2" cy="1692.4" r="6"/><circle cx="550.5" cy="1672.5" r="6"/><circle cx="568.7" cy="1713.9" r="6"/><circle cx="587" cy="1709.1" r="6"/>
</g>
<path class="ax" d="M176,1499.7V1743M174,1741H603M168,1740.9H176M168,1661.4H176M168,1581.5H176M168,1502.5H176M176,1741V1751M389.5,1741V1751M601.8,1741V1751"/>
<g font-size="31" text-anchor="end">
<text x="162" y="1752">0</text><text x="162" y="1672.4">5</text><text x="162" y="1592.5">10</text><text x="162" y="1513.5">15</text>
</g>
<g font-size="31" text-anchor="middle">
<text x="175" y="1778">0</text><text x="389.5" y="1778">12</text><text x="601" y="1778">24</text>
</g>
<text class="b" x="383.5" y="1814.8" font-size="35" text-anchor="middle">Zeitgeber Time</text>
<text class="b" transform="translate(75,1633) rotate(-90)" text-anchor="middle" font-size="35">Horizontal Activity</text>
<text class="b" transform="translate(115,1634) rotate(-90)" text-anchor="middle" font-size="35">(arb. units)</text>

<!-- ============ d1 ============ -->
<text class="b" x="869.5" y="1484.7" font-size="35">MT1/2<tspan font-size="25" dy="-16">-/-</tspan></text>
<text x="1148" y="1427.3" font-size="32" text-anchor="middle">vehicle /</text>
<text x="1160" y="1466.9" font-size="32" text-anchor="middle" style="fill:#e83a2c">melatonin</text>
<path d="M1057,1480H1265M1057,1472.5V1487.5M1265,1472.5V1487.5" stroke="#222" stroke-width="4" fill="none"/>
<rect x="844.5" y="1495.7" width="210.8" height="242" fill="#e9f53b"/>
<rect x="1055.3" y="1495.7" width="211.5" height="242" fill="#939393"/>
<text x="860" y="1523" font-size="30">Day</text>
<text x="1071" y="1523" font-size="30">Night</text>
<polyline points="853.6,1706.1 871.9,1709.3 890.1,1707 908.4,1703.3 926.7,1696.2 945,1708 963.2,1707 981.5,1693.5 999.8,1706.1 1018,1684.5 1036.3,1687.2 1054.6,1629 1072.8,1631.2 1091.1,1636.9 1109.4,1638.8 1127.7,1634.9 1145.9,1642.9 1164.2,1648.8 1182.5,1654.6 1200.7,1653.8 1219,1665.8 1237.3,1678.3 1255.5,1686.2" fill="none" stroke="#222" stroke-width="2" stroke-dasharray="2,7"/>
<path stroke="#111" stroke-width="3" fill="none" d="M853.6,1696.4V1715.8M847.6,1696.4h12M847.6,1715.8h12M871.9,1699.6V1719M865.9,1699.6h12M865.9,1719h12M890.1,1698.1V1715.9M884.1,1698.1h12M884.1,1715.9h12M908.4,1692V1714.6M902.4,1692h12M902.4,1714.6h12M926.7,1688.1V1704.3M920.7,1688.1h12M920.7,1704.3h12M945,1698.3V1717.7M939,1698.3h12M939,1717.7h12M963.2,1701.4V1712.6M957.2,1701.4h12M957.2,1712.6h12M981.5,1685.4V1701.6M975.5,1685.4h12M975.5,1701.6h12M999.8,1697.2V1715M993.8,1697.2h12M993.8,1715h12M1018,1676.4V1692.6M1012,1676.4h12M1012,1692.6h12M1054.6,1607.2V1650.8M1048.6,1607.2h12M1048.6,1650.8h12M1072.8,1609.4V1653M1066.8,1609.4h12M1066.8,1653h12M1091.1,1621.6V1652.2M1085.1,1621.6h12M1085.1,1652.2h12M1109.4,1625.9V1651.7M1103.4,1625.9h12M1103.4,1651.7h12M1127.7,1615.5V1654.3M1121.7,1615.5h12M1121.7,1654.3h12M1145.9,1620.3V1665.5M1139.9,1620.3h12M1139.9,1665.5h12M1164.2,1631.1V1666.5M1158.2,1631.1h12M1158.2,1666.5h12M1182.5,1648.1V1661.1M1176.5,1648.1h12M1176.5,1661.1h12M1200.7,1639.3V1668.3M1194.7,1639.3h12M1194.7,1668.3h12M1219,1661V1670.6M1213,1661h12M1213,1670.6h12M1237.3,1668.6V1688M1231.3,1668.6h12M1231.3,1688h12M1255.5,1670.1V1702.3M1249.5,1670.1h12M1249.5,1702.3h12"/>
<g fill="#111">
<circle cx="853.6" cy="1706.1" r="6"/><circle cx="871.9" cy="1709.3" r="6"/><circle cx="890.1" cy="1707" r="6"/><circle cx="908.4" cy="1703.3" r="6"/><circle cx="926.7" cy="1696.2" r="6"/><circle cx="945" cy="1708" r="6"/><circle cx="963.2" cy="1707" r="6"/><circle cx="981.5" cy="1693.5" r="6"/><circle cx="999.8" cy="1706.1" r="6"/><circle cx="1018" cy="1684.5" r="6"/><circle cx="1036.3" cy="1687.2" r="6"/><circle cx="1054.6" cy="1629" r="6"/><circle cx="1072.8" cy="1631.2" r="6"/><circle cx="1091.1" cy="1636.9" r="6"/><circle cx="1109.4" cy="1638.8" r="6"/><circle cx="1127.7" cy="1634.9" r="6"/><circle cx="1145.9" cy="1642.9" r="6"/><circle cx="1164.2" cy="1648.8" r="6"/><circle cx="1182.5" cy="1654.6" r="6"/><circle cx="1200.7" cy="1653.8" r="6"/><circle cx="1219" cy="1665.8" r="6"/><circle cx="1237.3" cy="1678.3" r="6"/><circle cx="1255.5" cy="1686.2" r="6"/>
</g>
<path stroke="#e83a2c" stroke-width="3" fill="none" d="M853.6,1665.6V1689.8M847.6,1665.6h12M847.6,1689.8h12M871.9,1665V1669.8M865.9,1665h12M865.9,1669.8h12M890.1,1678.2V1702.4M884.1,1678.2h12M884.1,1702.4h12M908.4,1664V1694.6M902.4,1664h12M902.4,1694.6h12M926.7,1688.6V1701.6M920.7,1688.6h12M920.7,1701.6h12M945,1663V1701.8M939,1663h12M939,1701.8h12M963.2,1672.7V1698.5M957.2,1672.7h12M957.2,1698.5h12M981.5,1695.8V1707M975.5,1695.8h12M975.5,1707h12M999.8,1689.5V1699.1M993.8,1689.5h12M993.8,1699.1h12M1018,1662.4V1688.2M1012,1662.4h12M1012,1688.2h12M1036.3,1659.3V1681.9M1030.3,1659.3h12M1030.3,1681.9h12M1054.6,1647.4V1678M1048.6,1647.4h12M1048.6,1678h12M1072.8,1636.7V1660.9M1066.8,1636.7h12M1066.8,1660.9h12M1091.1,1605.3V1650.5M1085.1,1605.3h12M1085.1,1650.5h12M1109.4,1635.6V1642M1103.4,1635.6h12M1103.4,1642h12M1127.7,1651.4V1666M1121.7,1651.4h12M1121.7,1666h12M1145.9,1641.9V1661.3M1139.9,1641.9h12M1139.9,1661.3h12M1164.2,1614.7V1653.5M1158.2,1614.7h12M1158.2,1653.5h12M1182.5,1633.5V1656.1M1176.5,1633.5h12M1176.5,1656.1h12M1200.7,1650.2V1663.2M1194.7,1650.2h12M1194.7,1663.2h12M1219,1613.6V1652.4M1213,1613.6h12M1213,1652.4h12M1237.3,1676.7V1694.5M1231.3,1676.7h12M1231.3,1694.5h12M1255.5,1660.8V1688.2M1249.5,1660.8h12M1249.5,1688.2h12"/>
<polyline points="853.6,1677.7 871.9,1667.4 890.1,1690.3 908.4,1679.3 926.7,1695.1 945,1682.4 963.2,1685.6 981.5,1701.4 999.8,1694.3 1018,1675.3 1036.3,1670.6 1054.6,1662.7 1072.8,1648.8 1091.1,1627.9 1109.4,1638.8 1127.7,1658.7 1145.9,1651.6 1164.2,1634.1 1182.5,1644.8 1200.7,1656.7 1219,1633 1237.3,1685.6 1255.5,1674.5" fill="none" stroke="#e83a2c" stroke-width="3.5"/>
<g fill="#ec5a48" stroke="#e83a2c" stroke-width="2.5">
<circle cx="853.6" cy="1677.7" r="6"/><circle cx="871.9" cy="1667.4" r="6"/><circle cx="890.1" cy="1690.3" r="6"/><circle cx="908.4" cy="1679.3" r="6"/><circle cx="926.7" cy="1695.1" r="6"/><circle cx="945" cy="1682.4" r="6"/><circle cx="963.2" cy="1685.6" r="6"/><circle cx="981.5" cy="1701.4" r="6"/><circle cx="999.8" cy="1694.3" r="6"/><circle cx="1018" cy="1675.3" r="6"/><circle cx="1036.3" cy="1670.6" r="6"/><circle cx="1054.6" cy="1662.7" r="6"/><circle cx="1072.8" cy="1648.8" r="6"/><circle cx="1091.1" cy="1627.9" r="6"/><circle cx="1109.4" cy="1638.8" r="6"/><circle cx="1127.7" cy="1658.7" r="6"/><circle cx="1145.9" cy="1651.6" r="6"/><circle cx="1164.2" cy="1634.1" r="6"/><circle cx="1182.5" cy="1644.8" r="6"/><circle cx="1200.7" cy="1656.7" r="6"/><circle cx="1219" cy="1633" r="6"/><circle cx="1237.3" cy="1685.6" r="6"/><circle cx="1255.5" cy="1674.5" r="6"/>
</g>
<path class="ax" d="M844.5,1493.4V1739.7M842.5,1737.7H1267M836,1737.7H844.5M836,1657.05H844.5M836,1576.4H844.5M836,1495.75H844.5M844.5,1737.7V1748M1055.3,1737.7V1748M1266,1737.7V1748"/>
<g font-size="31" text-anchor="end">
<text x="830" y="1748.7">0</text><text x="830" y="1668">5</text><text x="830" y="1587.4">10</text><text x="830" y="1506.7">15</text>
</g>
<g font-size="31" text-anchor="middle">
<text x="842" y="1776.5">0</text><text x="1055.3" y="1776.5">12</text><text x="1263" y="1776.5">24</text>
</g>
<text class="b" x="1051" y="1812.9" font-size="35" text-anchor="middle">Zeitgeber Time</text>
<text class="b" transform="translate(747,1618) rotate(-90)" text-anchor="middle" font-size="35">Horizontal Activity</text>
<text class="b" transform="translate(787,1619) rotate(-90)" text-anchor="middle" font-size="35">(arb. units)</text>

<!-- ============ c2 ============ -->
<text x="263" y="1919.7" font-size="32" text-anchor="middle">vehicle</text>
<text x="516" y="1919.7" font-size="32" text-anchor="middle" style="fill:#3f5bb0">melatonin</text>
<path d="M190.6,1935.5H331.4M190.6,1928V1943M331.4,1928V1943M442.9,1935.5H586M442.9,1928V1943M586,1928V1943" stroke="#222" stroke-width="4" fill="none"/>
<path class="ln" d="M223.4,2011.4V2024.5M210.8,2011.4H237.2M295.9,2145.9V2156.1M282.7,2145.9H308.4M477.9,2102.8V2114.6M464.6,2102.8H490.3M549.8,2134V2156.9M537,2134H562.7" stroke-width="4"/>
<rect x="198.9" y="2024.5" width="50.2" height="216.7" fill="#231f20"/>
<rect x="273.3" y="2157.8" width="45.3" height="83.4" fill="#fff" stroke="#111" stroke-width="3.5"/>
<rect x="452.7" y="2114.6" width="50.3" height="126.6" fill="#445fa8"/>
<rect x="526.8" y="2158.6" width="46" height="82.6" fill="#fff" stroke="#445fa8" stroke-width="3.5"/>
<path class="ax" d="M174,1931.5V2243.2M166,2241.2H599M166,1932.2H174M166,1994H174M166,2055.8H174M166,2117.6H174M166,2179.4H174M166,2241.2H174M223.4,2241.2V2252M295.4,2241.2V2252M479.2,2241.2V2252M550.8,2241.2V2252"/>
<g font-size="31" text-anchor="end">
<text x="160" y="2005">10</text><text x="160" y="2128.6">5</text><text x="160" y="2252.2">0</text>
</g>
<g font-size="31" text-anchor="end">
<text transform="translate(227.5,2260) rotate(-90)">Night</text>
<text transform="translate(305,2262) rotate(-90)">Day</text>
<text transform="translate(486.5,2260) rotate(-90)">Night</text>
<text transform="translate(560,2262) rotate(-90)">Day</text>
</g>
<path class="ln" d="M223.4,1992.8V1973H480.4V2085.8"/>
<text class="b" x="363" y="1982" font-size="40" text-anchor="middle">*</text>
<text class="b" transform="translate(75,2087) rotate(-90)" text-anchor="middle" font-size="35">Horizontal Activity</text>
<text class="b" transform="translate(115,2097) rotate(-90)" text-anchor="middle" font-size="35">(arb. units)</text>

<!-- ============ d2 ============ -->
<text x="926.8" y="1915.7" font-size="32" text-anchor="middle">vehicle</text>
<text x="1181.8" y="1915.7" font-size="32" text-anchor="middle" style="fill:#e83a2c">melatonin</text>
<path d="M856.8,1924.8H995.2M856.8,1917.5V1932M995.2,1917.5V1932M1109.5,1924.8H1249.8M1109.5,1917.5V1932M1249.8,1917.5V1932" stroke="#222" stroke-width="4" fill="none"/>
<path class="ln" d="M889.8,2103.5V2115.4M877.4,2103.5H901.9M959.4,2151.8V2164M947.2,2151.8H971.7M1146.4,2083.8V2098.8M1133.6,2083.8H1158.3M1215.8,2157.7V2166M1203.5,2157.7H1228.2" stroke-width="4"/>
<rect x="865.5" y="2115.4" width="48.6" height="120.6" fill="#231f20"/>
<rect x="937.2" y="2165.7" width="44.4" height="70.3" fill="#fff" stroke="#111" stroke-width="3.5"/>
<rect x="1121.7" y="2098.8" width="49.5" height="137.2" fill="#ea3a2c"/>
<rect x="1193.4" y="2167.7" width="44.9" height="68.3" fill="#fff" stroke="#ea3a2c" stroke-width="3.5"/>
<path class="ax" d="M844.5,1925.6V2238M835.8,2236H1264.9M836,1925.6H844.5M836,1988H844.5M836,2050H844.5M836,2112.6H844.5M836,2174.7H844.5M836,2236H844.5M889.2,2236V2247M959.2,2236V2247M1146.2,2236V2247M1215.4,2236V2247"/>
<g font-size="31" text-anchor="end">
<text x="832" y="1999">10</text><text x="832" y="2123.6">5</text><text x="832" y="2247">0</text>
</g>
<g font-size="31" text-anchor="end">
<text transform="translate(896.5,2257) rotate(-90)">Night</text>
<text transform="translate(972,2259) rotate(-90)">Day</text>
<text transform="translate(1159.5,2257) rotate(-90)">Night</text>
<text transform="translate(1229,2259) rotate(-90)">Day</text>
</g>
<path class="ln" d="M889.2,2091.7V1994H1146.2V2068.8"/>
<text x="1026.4" y="1988" font-size="32" text-anchor="middle">ns</text>
<text class="b" transform="translate(748,2078) rotate(-90)" text-anchor="middle" font-size="35">Horizontal Activity</text>
<text class="b" transform="translate(787,2089) rotate(-90)" text-anchor="middle" font-size="35">(arb. units)</text>
</svg>
</body></html>
